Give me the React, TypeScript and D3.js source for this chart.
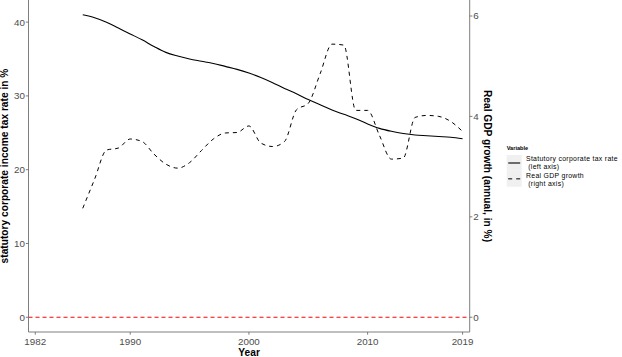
import React from "react";
import * as d3 from "d3";

const years = d3.range(1986, 2019);
const taxRate = [41.0, 40.6, 40.0, 39.2, 38.4, 37.6, 36.7, 35.9, 35.4, 35.0, 34.7, 34.4, 34.0, 33.6, 33.1, 32.5, 31.8, 31.0, 30.3, 29.5, 28.8, 28.1, 27.5, 26.9, 26.2, 25.6, 25.2, 24.9, 24.7, 24.6, 24.5, 24.4, 24.2];
const gdpGrowth = [2.17, 2.75, 3.33, 3.37, 3.55, 3.5, 3.25, 3.05, 2.97, 3.08, 3.32, 3.55, 3.67, 3.68, 3.81, 3.47, 3.4, 3.5, 4.13, 4.26, 4.85, 5.44, 5.42, 4.12, 4.12, 3.62, 3.15, 3.17, 3.98, 4.02, 4.0, 3.9, 3.7];
const xTickValues = [1982, 1990, 2000, 2010, 2018];
const xTickLabels = ["1982", "1990", "2000", "2010", "2019"];
const leftTicks = [0, 10, 20, 30, 40];
const rightTicks = [0, 2, 4, 6];
const legendTitle = "Variable";
const legendLabels = [
  ["Statutory corporate tax rate", " (left axis)"],
  ["Real GDP growth", " (right axis)"],
];

const W = 622;
const H = 357;
const FONT = "'Liberation Sans', Arial, Helvetica, sans-serif";

export default function App() {
  const left = 28.5;
  const right = 469.7;
  const top = 0;
  const bottom = 332;
  const k = 6.805;

  const x = d3.scaleLinear().domain([1981.43, 2018.6]).range([left, right]);
  const y = d3.scaleLinear().domain([-2, 43]).range([bottom, top]);
  const yR = d3.scaleLinear().domain([-2 / k, 43 / k]).range([bottom, top]);

  const taxLine = d3
    .line<number>()
    .x((_, i) => x(years[i]))
    .y((d) => y(d))
    .curve(d3.curveMonotoneX);
  const gdpLine = d3
    .line<number>()
    .x((_, i) => x(years[i]))
    .y((d) => yR(d))
    .curve(d3.curveMonotoneX);

  const axisColor = "#6f6f6f";
  const tickText = "#4d4d4d";
  const lineGap = 8.1;
  const firstBase = 161.3;

  return (
    <svg
      width={W}
      height={H}
      style={{ position: "absolute", left: 0, top: 0, background: "#fff" }}
      fontFamily={FONT}
    >
      <rect x={0} y={0} width={W} height={H} fill="#fff" />
      <line
        x1={left}
        x2={right}
        y1={y(0)}
        y2={y(0)}
        stroke="#ff0000"
        strokeWidth={1}
        strokeDasharray="4,3"
      />
      <path d={taxLine(taxRate) || ""} fill="none" stroke="#000" strokeWidth={1.1} />
      <path
        d={gdpLine(gdpGrowth) || ""}
        fill="none"
        stroke="#000"
        strokeWidth={1}
        strokeDasharray="4,4"
      />

      <line x1={left} x2={left} y1={top} y2={bottom} stroke={axisColor} strokeWidth={0.9} />
      <line x1={right} x2={right} y1={top} y2={bottom} stroke={axisColor} strokeWidth={0.9} />
      <line x1={left} x2={right} y1={bottom} y2={bottom} stroke={axisColor} strokeWidth={0.9} />

      {leftTicks.map((t) => (
        <g key={"l" + t}>
          <line x1={left - 2.7} x2={left} y1={y(t)} y2={y(t)} stroke={axisColor} strokeWidth={0.9} />
          <text x={left - 3.5} y={y(t)} dy="0.35em" textAnchor="end" fontSize={9.8} fill={tickText}>
            {t}
          </text>
        </g>
      ))}
      {rightTicks.map((t) => (
        <g key={"r" + t}>
          <line x1={right} x2={right + 2.7} y1={yR(t)} y2={yR(t)} stroke={axisColor} strokeWidth={0.9} />
          <text x={right + 3.6} y={yR(t)} dy="0.35em" textAnchor="start" fontSize={9.8} fill={tickText}>
            {t}
          </text>
        </g>
      ))}
      {xTickValues.map((t, i) => (
        <g key={"x" + t}>
          <line x1={x(t)} x2={x(t)} y1={bottom} y2={bottom + 2.7} stroke={axisColor} strokeWidth={0.9} />
          <text x={x(t)} y={bottom + 13} textAnchor="middle" fontSize={9.8} fill={tickText}>
            {xTickLabels[i]}
          </text>
        </g>
      ))}

      <text x={(left + right) / 2} y={355.5} textAnchor="middle" fontSize={10.2} fontWeight="bold" fill="#000">
        Year
      </text>
      <text
        transform={`translate(8, ${(top + bottom) / 2}) rotate(-90)`}
        textAnchor="middle"
        fontSize={10.2}
        fontWeight="bold"
        fill="#000"
      >
        statutory corporate income tax rate in %
      </text>
      <text
        transform={`translate(483.5, ${(top + bottom) / 2}) rotate(90)`}
        textAnchor="middle"
        fontSize={10.2}
        fontWeight="bold"
        fill="#000"
      >
        Real GDP growth (annual, in %)
      </text>

      <text x={506.7} y={150} fontSize={5.6} fontWeight="bold" fill="#000">
        {legendTitle}
      </text>
      {legendLabels.map((lab, i) => {
        const ky = 155 + i * 15.85;
        const b0 = firstBase + i * 2 * lineGap;
        return (
          <g key={"lg" + i}>
            <rect x={506.7} y={ky} width={15} height={15.85} fill="#f0f0f0" />
            <line
              x1={508.2}
              x2={520.2}
              y1={ky + 8}
              y2={ky + 8}
              stroke="#000"
              strokeWidth={i === 0 ? 1.1 : 1}
              strokeDasharray={i === 0 ? undefined : "4,4"}
            />
            <text x={526} y={b0} fontSize={6.9} fill="#000" letterSpacing={0.3} style={{ whiteSpace: "pre" }}>
              {lab[0]}
            </text>
            <text x={526} y={b0 + lineGap} fontSize={6.9} fill="#000" letterSpacing={0.3} style={{ whiteSpace: "pre" }}>
              {lab[1]}
            </text>
          </g>
        );
      })}
    </svg>
  );
}
